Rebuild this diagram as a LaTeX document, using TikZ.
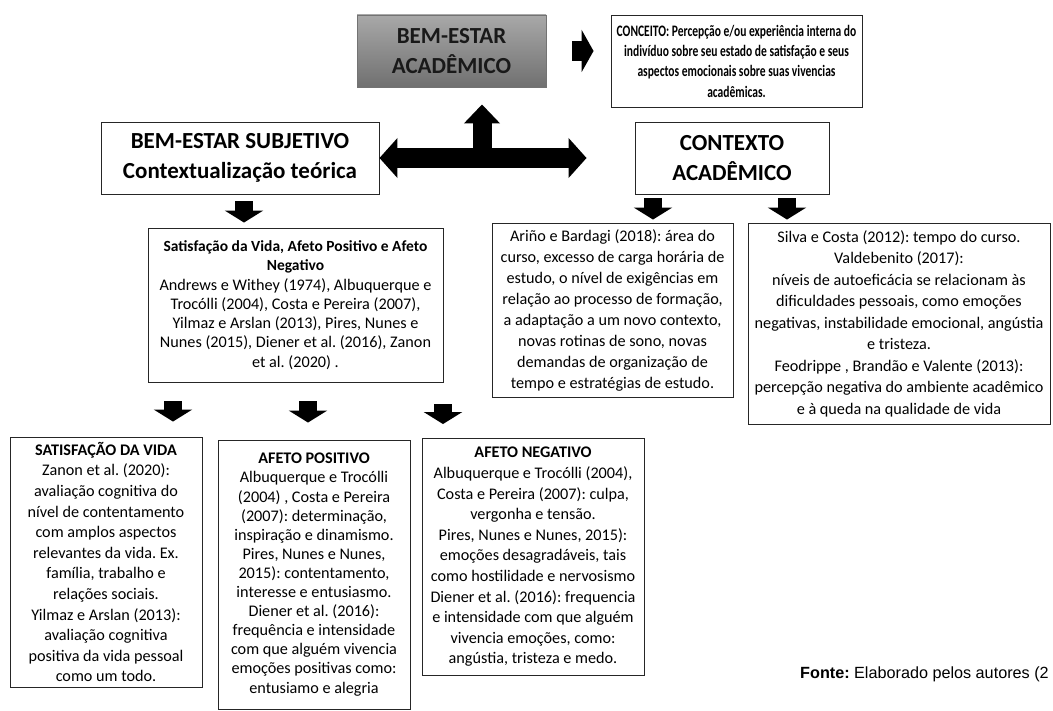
\documentclass[tikz,border=0pt]{standalone}
\usepackage{fontspec}
\setmainfont{Carlito}
\newfontfamily\narrowfont[FakeStretch=0.72]{Carlito}
\newfontfamily\arialfont{Liberation Sans}
\usetikzlibrary{arrows.meta}
\frenchspacing

\definecolor{acadtop}{gray}{0.66}
\definecolor{acadbot}{gray}{0.44}

\begin{document}
\begin{tikzpicture}[x=1pt,y=-1pt,
  box/.style={draw=black!85, line width=0.9pt, fill=white, align=center, inner sep=2pt},
  body/.style={font=\fontsize{16.2}{20.6}\selectfont},
  title/.style={font=\fontsize{23}{30.5}\selectfont\bfseries},
  fatarrow/.style={black, line width=18pt, -{Triangle[width=38pt,length=12pt]}}]

\fill[white] (0,0) rectangle (1053,711);
\clip (0,0) rectangle (1053,711);

% top row
\node[box, title, top color=acadtop, bottom color=acadbot, draw=black!55, text=black!90,
  minimum width=189pt, minimum height=72pt] (acad) at (451.5,51) {BEM-ESTAR\\ACADÊMICO};
\node[box, font=\narrowfont\bfseries\fontsize{16}{20.3}\selectfont,
  minimum width=251pt, minimum height=92pt] (conc) at (736.5,61)
  {CONCEITO: Percepção e/ou experiência interna do\\ indivíduo sobre seu estado de satisfação e seus\\ aspectos emocionais sobre suas vivencias\\ acadêmicas.};

\node[box, title, minimum width=278pt, minimum height=72pt] (sub) at (240,158)
  {BEM-ESTAR SUBJETIVO\\Contextualização teórica};
\node[box, title, minimum width=194pt, minimum height=72pt] (ctx) at (732,158)
  {CONTEXTO\\ACADÊMICO};

% middle row
\node[box, body, font=\fontsize{16.2}{19.3}\selectfont, minimum width=295pt, minimum height=154pt] (satis) at (295.5,305)
  {{\bfseries\fontsize{15.5}{17}\selectfont Satisfação da Vida, Afeto Positivo e Afeto}\\
   {\bfseries\fontsize{15.5}{17}\selectfont Negativo}\\
   Andrews e Withey (1974), Albuquerque e\\ Trocólli\ (2004), Costa e Pereira (2007),\\
   Yilmaz e Arslan (2013), Pires, Nunes e\\ Nunes (2015),\ Diener et al. (2016), Zanon\\ et al. (2020) .};
\node[box, body, font=\fontsize{16.2}{21}\selectfont, minimum width=241pt, minimum height=174pt] (arino) at (612.5,310)
  {Ariño e Bardagi (2018): área do\\ curso, excesso de carga horária de\\ estudo, o nível de exigências em\\
   relação ao processo de formação,\\ a adaptação a um novo contexto,\\ novas rotinas de sono, novas\\
   demandas de organização de\\ tempo e estratégias de estudo.};
\node[box, body, font=\fontsize{16.2}{21.5}\selectfont, minimum width=302pt, minimum height=201pt] (silva) at (899,323.5)
  {Silva e Costa (2012): tempo do curso.\\ Valdebenito\ (2017):\\ níveis de autoeficácia se relacionam às\\
   dificuldades pessoais, como emoções\\ negativas, instabilidade emocional, angústia\\ e tristeza.\\
   Feodrippe , Brandão e Valente (2013):\\ percepção negativa do ambiente acadêmico\\ e à queda na qualidade de vida};

% bottom row
\node[box, body, minimum width=192pt, minimum height=250pt] (vida) at (106,562)
  {\textbf{SATISFAÇÃO DA VIDA}\\ Zanon et al. (2020):\\ avaliação cognitiva do\\ nível de contentamento\\
   com amplos aspectos\\ relevantes da vida. Ex.\\ família, trabalho e\\ relações sociais.\\
   Yilmaz e Arslan (2013):\\ avaliação cognitiva\\ positiva da vida pessoal\\ como um todo.};
\node[box, body, font=\fontsize{16.2}{19.1}\selectfont, minimum width=192pt, minimum height=269pt] (pos) at (314,574.5)
  {\textbf{AFETO POSITIVO}\\ Albuquerque e\ Trocólli\\ (2004) , Costa e Pereira\\ (2007): determinação,\\
   inspiração e dinamismo.\\ Pires, Nunes e Nunes,\\ 2015): contentamento,\\ interesse e entusiasmo.\\
   Diener et al. (2016):\\ frequência e intensidade\\ com que alguém vivencia\\ emoções positivas como:\\ entusiamo e alegria};
\node[box, body, minimum width=222pt, minimum height=237pt] (neg) at (533,557)
  {\textbf{AFETO NEGATIVO}\\ Albuquerque e\ Trocólli\ (2004),\\ Costa e Pereira (2007): culpa,\\ vergonha e tensão.\\
   Pires, Nunes e Nunes, 2015):\\ emoções desagradáveis, tais\\ como hostilidade e nervosismo\\
   Diener et al. (2016):\ frequencia\\ e intensidade com que alguém\\ vivencia emoções, como:\\ angústia, tristeza e medo.};

\node[anchor=base west, inner sep=0pt, font=\arialfont\fontsize{16.2}{19}\selectfont] (fonte) at (800,678)
  {\textbf{Fonte:} Elaborado pelos autores (2};

% block arrows
\coordinate (junc) at (482,158);
\draw[black, line width=20pt, {Triangle[width=39pt,length=18pt]}-{Triangle[width=39pt,length=18pt]},
  shorten >=48pt] (sub.east) -- (ctx.west);
\draw[fatarrow, line width=19pt, -{Triangle[width=35pt,length=19pt]}, shorten >=17pt] (junc) -- (junc |- acad.south);
\draw[fatarrow, line width=20pt, -{Triangle[width=42pt,length=12pt]}, shorten <=26pt, shorten >=17pt]
  (acad.east) -- (acad.east -| conc.west);

\draw[fatarrow, shorten <=7pt, shorten >=5pt] ([xshift=4pt]sub.south) -- ([xshift=-51.5pt]satis.north);
\draw[fatarrow, shorten <=4pt, shorten >=3pt] ([xshift=-79pt]ctx.south) -- ([xshift=40.5pt]arino.north);
\draw[fatarrow, shorten <=4pt, shorten >=3pt] ([xshift=55pt]ctx.south) -- ([xshift=-112pt]silva.north);

\draw[fatarrow, shorten <=19pt, shorten >=15pt] ([xshift=-122.5pt]satis.south) -- ([xshift=67pt]vida.north);
\draw[fatarrow, shorten <=19pt, shorten >=17pt] ([xshift=12.5pt]satis.south) -- ([xshift=-6pt]pos.north);
\draw[fatarrow, shorten <=22pt, shorten >=14pt] ([xshift=147.5pt]satis.south) -- ([xshift=-90pt]neg.north);

\end{tikzpicture}
\end{document}
